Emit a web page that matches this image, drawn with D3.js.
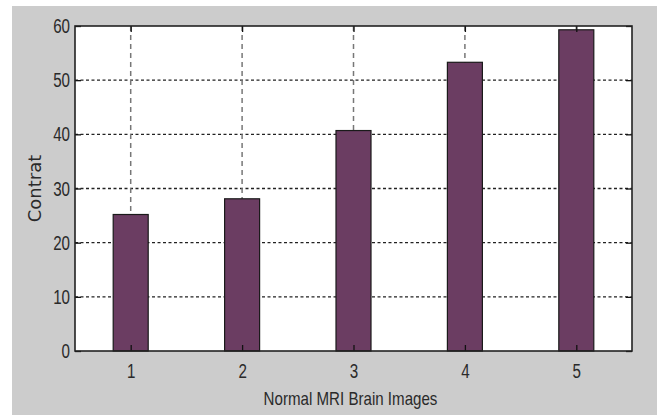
<!DOCTYPE html>
<html>
<head>
<meta charset="utf-8">
<script src="https://cdn.jsdelivr.net/npm/d3@7"></script>
<style>
  html, body { margin: 0; padding: 0; background: #fff; }
  svg { display: block; }
</style>
</head>
<body>
<svg id="chart" width="664" height="415"></svg>
<script>
// Contrast measured on each normal MRI brain image
const categories = [1, 2, 3, 4, 5];
const contrastValues = [25.2, 28.1, 40.7, 53.3, 59.3];
const yTicks = [0, 10, 20, 30, 40, 50, 60];

const svg = d3.select("#chart");
const W = 664, H = 415;
const plot = { left: 75, top: 26, right: 632, bottom: 351 };
const narrow = 0.74;         // horizontal squeeze for the condensed tick font
const textColor = "#2a2a2a";

// figure background
svg.append("rect").attr("x", 12).attr("y", 6).attr("width", 645).attr("height", H - 6)
  .attr("fill", "#cccccc");

const x = d3.scaleLinear().domain([0.5, 5.5]).range([plot.left, plot.right]);
const y = d3.scaleLinear().domain([0, 60]).range([plot.bottom, plot.top]);
const barW = 35;

// axes face
svg.append("rect").attr("x", plot.left).attr("y", plot.top)
  .attr("width", plot.right - plot.left).attr("height", plot.bottom - plot.top)
  .attr("fill", "#ffffff");

// grid lines
const grid = svg.append("g");
grid.selectAll("line.gy").data(yTicks.slice(1, -1)).join("line")
  .attr("x1", plot.left).attr("x2", plot.right)
  .attr("y1", d => y(d)).attr("y2", d => y(d))
  .attr("stroke", "#222").attr("stroke-width", 1.3).attr("stroke-dasharray", "3,2.5");
grid.selectAll("line.gx").data(categories).join("line")
  .attr("x1", d => x(d)).attr("x2", d => x(d))
  .attr("y1", plot.top).attr("y2", plot.bottom)
  .attr("stroke", "#777").attr("stroke-width", 1.5).attr("stroke-dasharray", "5,4");

// bars
svg.append("g").selectAll("rect").data(categories).join("rect")
  .attr("x", d => x(d) - barW / 2)
  .attr("y", (d, i) => y(contrastValues[i]))
  .attr("width", barW)
  .attr("height", (d, i) => y(0) - y(contrastValues[i]))
  .attr("fill", "#6b3d62")
  .attr("stroke", "#1a1a1a").attr("stroke-width", 1.2);

// axes with inward ticks
const tickFont = 20.5;
const yAxis = svg.append("g").attr("transform", `translate(${plot.left},0)`)
  .call(d3.axisLeft(y).tickValues(yTicks).tickSizeInner(-6).tickSizeOuter(0).tickPadding(5));
const yAxisR = svg.append("g").attr("transform", `translate(${plot.right},0)`)
  .call(d3.axisRight(y).tickValues(yTicks).tickSizeInner(-6).tickSizeOuter(0).tickFormat(""));
const xAxis = svg.append("g").attr("transform", `translate(0,${plot.bottom})`)
  .call(d3.axisBottom(x).tickValues(categories).tickFormat(d3.format("d"))
    .tickSizeInner(-6).tickSizeOuter(0).tickPadding(12));
const xAxisT = svg.append("g").attr("transform", `translate(0,${plot.top})`)
  .call(d3.axisTop(x).tickValues(categories).tickSizeInner(-6).tickSizeOuter(0).tickFormat(""));

[yAxis, yAxisR, xAxis, xAxisT].forEach(g => {
  g.select(".domain").remove();
  g.selectAll(".tick line").attr("stroke", "#111").attr("stroke-width", 1.3);
  g.selectAll(".tick text")
    .attr("font-family", "'Liberation Sans', Arial, sans-serif")
    .attr("font-size", tickFont).attr("fill", textColor)
    .attr("x", function () { return (+d3.select(this).attr("x") || 0) / narrow; })
    .attr("transform", `scale(${narrow},1)`);
});

// plot box
svg.append("rect").attr("x", plot.left).attr("y", plot.top)
  .attr("width", plot.right - plot.left).attr("height", plot.bottom - plot.top)
  .attr("fill", "none").attr("stroke", "#222").attr("stroke-width", 1.6);

// axis titles
const xTitleScale = 0.84;
svg.append("text")
  .attr("transform", `translate(${(plot.left + plot.right) / 2 - 3},405) scale(${xTitleScale},1)`)
  .attr("text-anchor", "middle")
  .attr("font-family", "'Liberation Sans', Arial, sans-serif")
  .attr("font-size", 18).attr("fill", textColor)
  .text("Normal MRI Brain Images");

svg.append("text")
  .attr("transform", `translate(41,${(plot.top + plot.bottom) / 2}) rotate(-90)`)
  .attr("text-anchor", "middle")
  .attr("font-family", "'DejaVu Sans', Verdana, sans-serif")
  .attr("font-size", 18).attr("fill", textColor)
  .text("Contrat");
</script>
</body>
</html>
